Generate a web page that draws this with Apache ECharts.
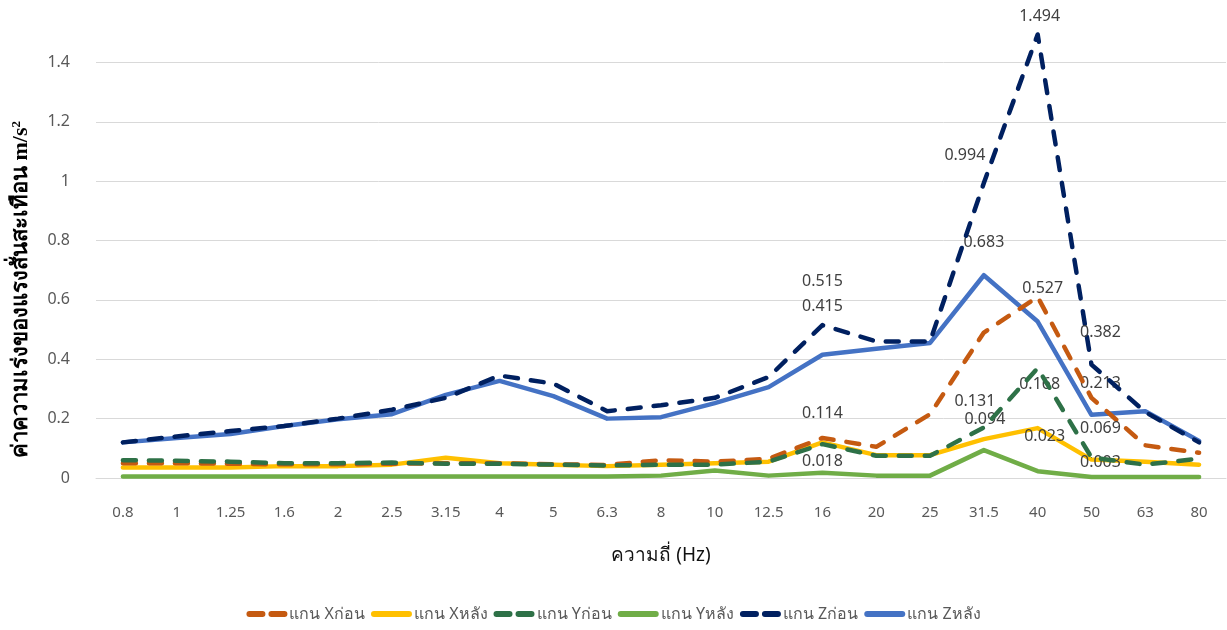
<!DOCTYPE html>
<html>
<head>
<meta charset="utf-8">
<script src="https://cdn.jsdelivr.net/npm/echarts@6/dist/echarts.min.js"></script>
<style>
  html, body { margin: 0; padding: 0; background: #fff; }
  #chart { width: 1227px; height: 630px; }
</style>
</head>
<body>
<div id="chart"></div>
<script>
// Frequency bands (Hz)
const categories = ['0.8', '1', '1.25', '1.6', '2', '2.5', '3.15', '4', '5', '6.3', '8',
  '10', '12.5', '16', '20', '25', '31.5', '40', '50', '63', '80'];

// Vibration acceleration (m/s²) per axis, before / after
const xBefore = [0.050, 0.050, 0.048, 0.046, 0.046, 0.048, 0.050, 0.050, 0.046, 0.044, 0.060,
  0.055, 0.065, 0.135, 0.105, 0.215, 0.490, 0.610, 0.270, 0.110, 0.085];
const xAfter = [0.035, 0.035, 0.035, 0.040, 0.040, 0.045, 0.068, 0.050, 0.045, 0.040, 0.045,
  0.050, 0.055, 0.120, 0.077, 0.077, 0.131, 0.168, 0.062, 0.055, 0.045];
const yBefore = [0.060, 0.058, 0.055, 0.050, 0.050, 0.052, 0.048, 0.048, 0.045, 0.042, 0.045,
  0.045, 0.055, 0.114, 0.075, 0.075, 0.170, 0.370, 0.069, 0.045, 0.065];
const yAfter = [0.005, 0.005, 0.005, 0.005, 0.005, 0.005, 0.005, 0.005, 0.005, 0.005, 0.008,
  0.025, 0.008, 0.018, 0.008, 0.008, 0.094, 0.023, 0.003, 0.003, 0.003];
const zBefore = [0.120, 0.140, 0.158, 0.175, 0.200, 0.230, 0.270, 0.345, 0.318, 0.225, 0.245,
  0.270, 0.340, 0.515, 0.460, 0.460, 0.994, 1.494, 0.382, 0.222, 0.120];
const zAfter = [0.120, 0.135, 0.148, 0.175, 0.198, 0.215, 0.280, 0.327, 0.276, 0.200, 0.205,
  0.252, 0.306, 0.415, 0.435, 0.455, 0.683, 0.527, 0.213, 0.225, 0.125];

// Y axis ticks
const yTicks = [0, 0.2, 0.4, 0.6, 0.8, 1, 1.2, 1.4, 1.6];

// Which points carry a value label, and where the label sits relative to its point
const labelOffsets = {
  xAfter:  { 16: [-9, -29], 17: [2, -35] },
  yBefore: { 13: [0, -22], 18: [9, -20] },
  yAfter:  { 13: [0, -2], 16: [1, -22], 17: [7, -26], 18: [9, -6] },
  zBefore: { 13: [0, -35], 16: [-19, -18], 17: [2, -9], 18: [9, -23] },
  zAfter:  { 13: [0, -39], 16: [0, -24], 17: [5, -24], 18: [9, -22] }
};

function withLabels(values, key) {
  const offs = labelOffsets[key] || {};
  return values.map((v, i) => {
    if (!offs[i]) return v;
    return {
      value: v,
      symbol: 'circle',
      symbolSize: 1,
      label: {
        show: true,
        position: 'top',
        distance: 0,
        offset: offs[i],
        formatter: () => v.toFixed(3)
      }
    };
  });
}

function lineSeries(name, key, values, color, dashed) {
  return {
    name: name,
    type: 'line',
    data: withLabels(values, key),
    symbol: 'none',
    showSymbol: true,
    itemStyle: { color: color },
    lineStyle: {
      color: color,
      width: 4.5,
      type: dashed ? [13, 13] : 'solid',
      cap: 'round',
      join: 'round'
    },
    label: {
      show: false,
      color: '#404040',
      fontSize: 16,
      lineHeight: 17,
      fontFamily: 'Noto Sans, DejaVu Sans, sans-serif'
    },
    emphasis: { disabled: true },
    z: dashed ? 3 : 2
  };
}

const seriesNames = ['แกน Xก่อน', 'แกน Xหลัง', 'แกน Yก่อน', 'แกน Yหลัง', 'แกน Zก่อน', 'แกน Zหลัง'];
const dashedSeries = [true, false, true, false, true, false];

const chart = echarts.init(document.getElementById('chart'), null, { renderer: 'canvas' });

chart.setOption({
  animation: false,
  backgroundColor: '#ffffff',
  textStyle: { fontFamily: 'Noto Sans, DejaVu Sans, sans-serif' },
  grid: { left: 96, right: 1, top: 3, bottom: 152, containLabel: false },
  legend: {
    bottom: 3,
    left: 'center',
    itemWidth: 35,
    itemHeight: 10,
    itemGap: 6,
    itemStyle: { opacity: 0 },
    textStyle: { color: '#595959', fontSize: 16 },
    data: seriesNames.map((n, i) => ({
      name: n,
      lineStyle: { width: 6, cap: 'round', type: dashedSeries[i] ? [13, 9] : 'solid' }
    }))
  },
  xAxis: {
    type: 'category',
    data: categories,
    boundaryGap: true,
    name: 'ความถี่ (Hz)',
    nameLocation: 'middle',
    nameGap: 68,
    nameTextStyle: { color: '#111', fontSize: 19 },
    axisLine: { show: true, lineStyle: { color: '#D9D9D9', width: 1 } },
    axisTick: { show: false },
    axisLabel: { color: '#595959', fontSize: 15, margin: 27 },
    splitLine: { show: false }
  },
  yAxis: {
    type: 'value',
    min: yTicks[0],
    max: yTicks[yTicks.length - 1],
    interval: yTicks[1] - yTicks[0],
    name: '{a|ค่าความเร่งของแรงสั่นสะเทือน m/s}{s|2}',
    nameLocation: 'middle',
    nameGap: 64,
    nameRotate: 90,
    nameTextStyle: {
      padding: [0, 98, 0, 0],
      rich: {
        a: { fontSize: 22, fontWeight: 'bold', color: '#000', fontFamily: 'Liberation Serif, DejaVu Serif, serif' },
        s: { fontSize: 13, fontWeight: 'bold', color: '#000', verticalAlign: 'top', fontFamily: 'Liberation Serif, serif' }
      }
    },
    axisLine: { show: false },
    axisTick: { show: false },
    axisLabel: {
      color: '#595959',
      fontSize: 16,
      margin: 26,
      showMaxLabel: false,
      formatter: v => String(+v.toFixed(1))
    },
    splitLine: { show: true, showMaxLine: false, lineStyle: { color: '#D9D9D9', width: 1 } }
  },
  series: [
    lineSeries(seriesNames[0], 'xBefore', xBefore, '#C55A11', true),
    lineSeries(seriesNames[1], 'xAfter', xAfter, '#FFC000', false),
    lineSeries(seriesNames[2], 'yBefore', yBefore, '#2E7147', true),
    lineSeries(seriesNames[3], 'yAfter', yAfter, '#70AD47', false),
    lineSeries(seriesNames[4], 'zBefore', zBefore, '#002060', true),
    lineSeries(seriesNames[5], 'zAfter', zAfter, '#4472C4', false)
  ]
});
</script>
</body>
</html>
